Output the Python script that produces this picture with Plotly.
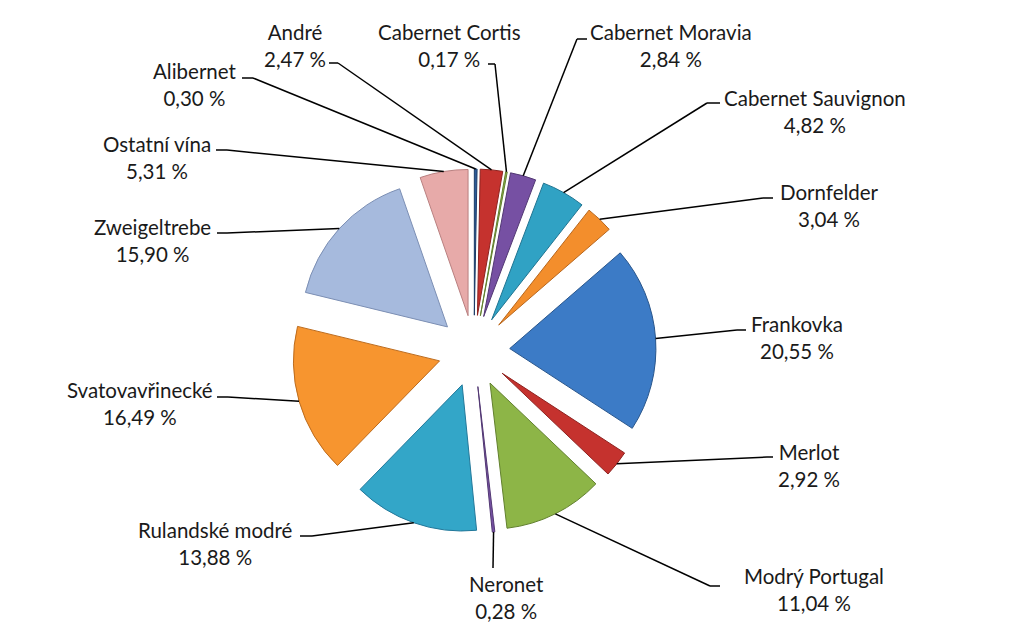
import math
import plotly.graph_objects as go

# ---- data ----
labels = ["Alibernet", "André", "Cabernet Cortis", "Cabernet Moravia", "Cabernet Sauvignon",
          "Dornfelder", "Frankovka", "Merlot", "Modrý Portugal", "Neronet",
          "Rulandské modré", "Svatovavřinecké", "Zweigeltrebe", "Ostatní vína"]
values = [0.30, 2.47, 0.17, 2.84, 4.82, 3.04, 20.55, 2.92, 11.04, 0.28, 13.88, 16.49, 15.90, 5.31]

# ---- styles ----
colors = ["#2C5A96", "#C5322E", "#8DB547", "#7650A3", "#30A2C4", "#F38E2C", "#3C7BC6",
          "#C5322E", "#8DB547", "#7650A3", "#33A6C8", "#F7952F", "#A6BADD", "#E7AAA9"]
edge_colors = ["#1D3D68", "#8E2320", "#62802F", "#523873", "#1F7491", "#B8661C", "#29568C",
               "#8E2320", "#62802F", "#523873", "#22789A", "#BD6C1E", "#7C8FB4", "#B98080"]

W, H = 1019, 623
CX, CY, EXT = 474, 351, 182   # pie centre and outer extent (px)
PULL = 0.245

# label layout: centre of two-line label (px)
label_pos = [(195, 84), (295, 45), (449, 45), (671, 45), (815, 111), (829, 205), (797, 337),
             (809, 465), (814, 589), (506, 597), (215, 543), (140, 404), (152, 240), (157, 157)]
# leader line: (elbow x, text-side x, y)
leader = [(253, 242, 78), (338, 329, 63), (495, 488, 64), (577, 587, 39), (707, 720, 103),
          (763, 773, 198), (737, 746, 330), (767, 773, 457), (710, 720, 586), (493, 493, 568),
          (312, 300, 536), (228, 217, 397), (227, 217, 233), (227, 216, 150)]

FONT = "Lato, 'Open Sans', sans-serif"


def px(x, y):
    return x / W, 1 - y / H


fig = go.Figure()
fig.add_trace(go.Pie(
    labels=labels, values=values, sort=False, direction="clockwise", rotation=0,
    pull=[PULL] * len(values), textinfo="none", hoverinfo="label+percent",
    marker=dict(colors=colors, line=dict(color=edge_colors, width=1)),
    domain=dict(x=[(CX - EXT) / W, (CX + EXT) / W], y=[1 - (CY + EXT) / H, 1 - (CY - EXT) / H]),
    showlegend=False,
))

total = sum(values)
shapes = []
annotations = []
cum = 0.0
for lab, v, (lx, ly), (ex, tx, ey) in zip(labels, values, label_pos, leader):
    mid = (cum + v / 2) / total * 2 * math.pi
    cum += v
    sx = CX + EXT * math.sin(mid)
    sy = CY - EXT * math.cos(mid)
    x0, y0 = px(sx, sy)
    x1, y1 = px(ex, ey)
    x2, _ = px(tx, ey)
    line = dict(color="#000000", width=1.5)
    shapes.append(dict(type="line", xref="paper", yref="paper", x0=x0, y0=y0, x1=x1, y1=y1, line=line))
    if tx != ex:
        shapes.append(dict(type="line", xref="paper", yref="paper", x0=x1, y0=y1, x1=x2, y1=y1, line=line))
    ax, ay = px(lx, ly)
    txt = f"{lab}<br>{v:.2f} %".replace(".", ",")
    annotations.append(dict(x=ax, y=ay, xref="paper", yref="paper", text=txt, showarrow=False,
                            xanchor="center", yanchor="middle", align="center",
                            font=dict(family=FONT, size=20.5, color="#1A1A1A")))

fig.update_layout(
    width=W, height=H, margin=dict(l=0, r=0, t=0, b=0),
    paper_bgcolor="white", plot_bgcolor="white",
    shapes=shapes, annotations=annotations,
)

fig.write_html("out.html", config={"displayModeBar": False},
               post_script="document.body.style.margin='0';document.body.style.overflow='hidden';")
